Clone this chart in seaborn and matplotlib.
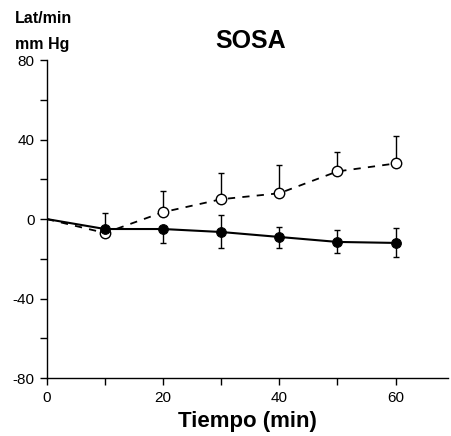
import matplotlib
matplotlib.use("Agg")
import matplotlib.pyplot as plt
import seaborn as sns
import pandas as pd
import numpy as np

tiempo = [0, 10, 20, 30, 40, 50, 60]
abierto = [0, -7, 3.5, 10, 13, 24, 28]
abierto_err_sup = [0, 0, 10.5, 13, 14, 10, 14]
lleno = [0, -5, -5, -6.5, -9, -11.5, -12]
lleno_err_inf = [0, 0, 7, 8, 5.5, 5.5, 7]
lleno_err_sup = [0, 8, 0, 8.5, 5, 6, 7.5]

sns.set_theme(style="ticks")
plt.rcParams['font.family'] = ['Liberation Sans', 'DejaVu Sans']
plt.rcParams['axes.unicode_minus'] = False
plt.rcParams['text.color'] = 'black'
plt.rcParams['axes.labelcolor'] = 'black'
plt.rcParams['xtick.color'] = 'black'
plt.rcParams['ytick.color'] = 'black'

fig = plt.figure(figsize=(4.51, 4.36), dpi=100)
ax = fig.add_axes([0.104, 0.133, 0.889, 0.729])

df = pd.DataFrame({"t": tiempo, "a": abierto, "l": lleno})

ax.errorbar(tiempo[1:], abierto[1:], yerr=[np.zeros(6), abierto_err_sup[1:]], fmt='none',
            ecolor='black', elinewidth=1.0, capsize=2, capthick=1.0, zorder=2)
ax.errorbar(tiempo[1:], lleno[1:], yerr=[lleno_err_inf[1:], lleno_err_sup[1:]], fmt='none',
            ecolor='black', elinewidth=1.0, capsize=2, capthick=1.0, zorder=2)

sns.lineplot(data=df, x="t", y="a", ax=ax, color='black', linestyle=(0, (4, 4)),
             linewidth=1.3, marker='o', markersize=7.5, markerfacecolor='white',
             markeredgecolor='black', markeredgewidth=1.0, markevery=list(range(1, 7)), zorder=3)
sns.lineplot(data=df, x="t", y="l", ax=ax, color='black', linestyle='-',
             linewidth=1.5, marker='o', markersize=7, markerfacecolor='black',
             markeredgecolor='black', markevery=list(range(1, 7)), zorder=4)

ax.set_xlim(0, 69)
ax.set_ylim(-80, 80)
ax.set_xticks([0, 20, 40, 60])
ax.set_xticks([10, 30, 50], minor=True)
ax.set_yticks([-80, -40, 0, 40, 80])
ax.set_yticks([-60, -20, 20, 60], minor=True)
ax.tick_params(axis='both', which='both', direction='out', color='black', width=1.0)
ax.tick_params(axis='both', which='major', length=5, labelsize=11, pad=4, labelcolor='black')
ax.tick_params(axis='both', which='minor', length=5)
for s in ['top', 'right']:
    ax.spines[s].set_visible(False)
for s in ['left', 'bottom']:
    ax.spines[s].set_color('black')
    ax.spines[s].set_linewidth(1.0)

ax.set_xlabel("Tiempo (min)", fontsize=16, fontweight='bold', labelpad=5, color='black')
ax.set_ylabel("")
fig.text(0.556, 0.907, "SOSA", fontsize=18, fontweight='bold', ha='center', va='center', color='black')
fig.text(0.033, 0.958, "Lat/min", fontsize=11.5, fontweight='bold', ha='left', va='center', color='black')
fig.text(0.033, 0.897, "mm Hg", fontsize=11.5, fontweight='bold', ha='left', va='center', color='black')

fig.savefig("out.png", dpi=100, facecolor='white')
